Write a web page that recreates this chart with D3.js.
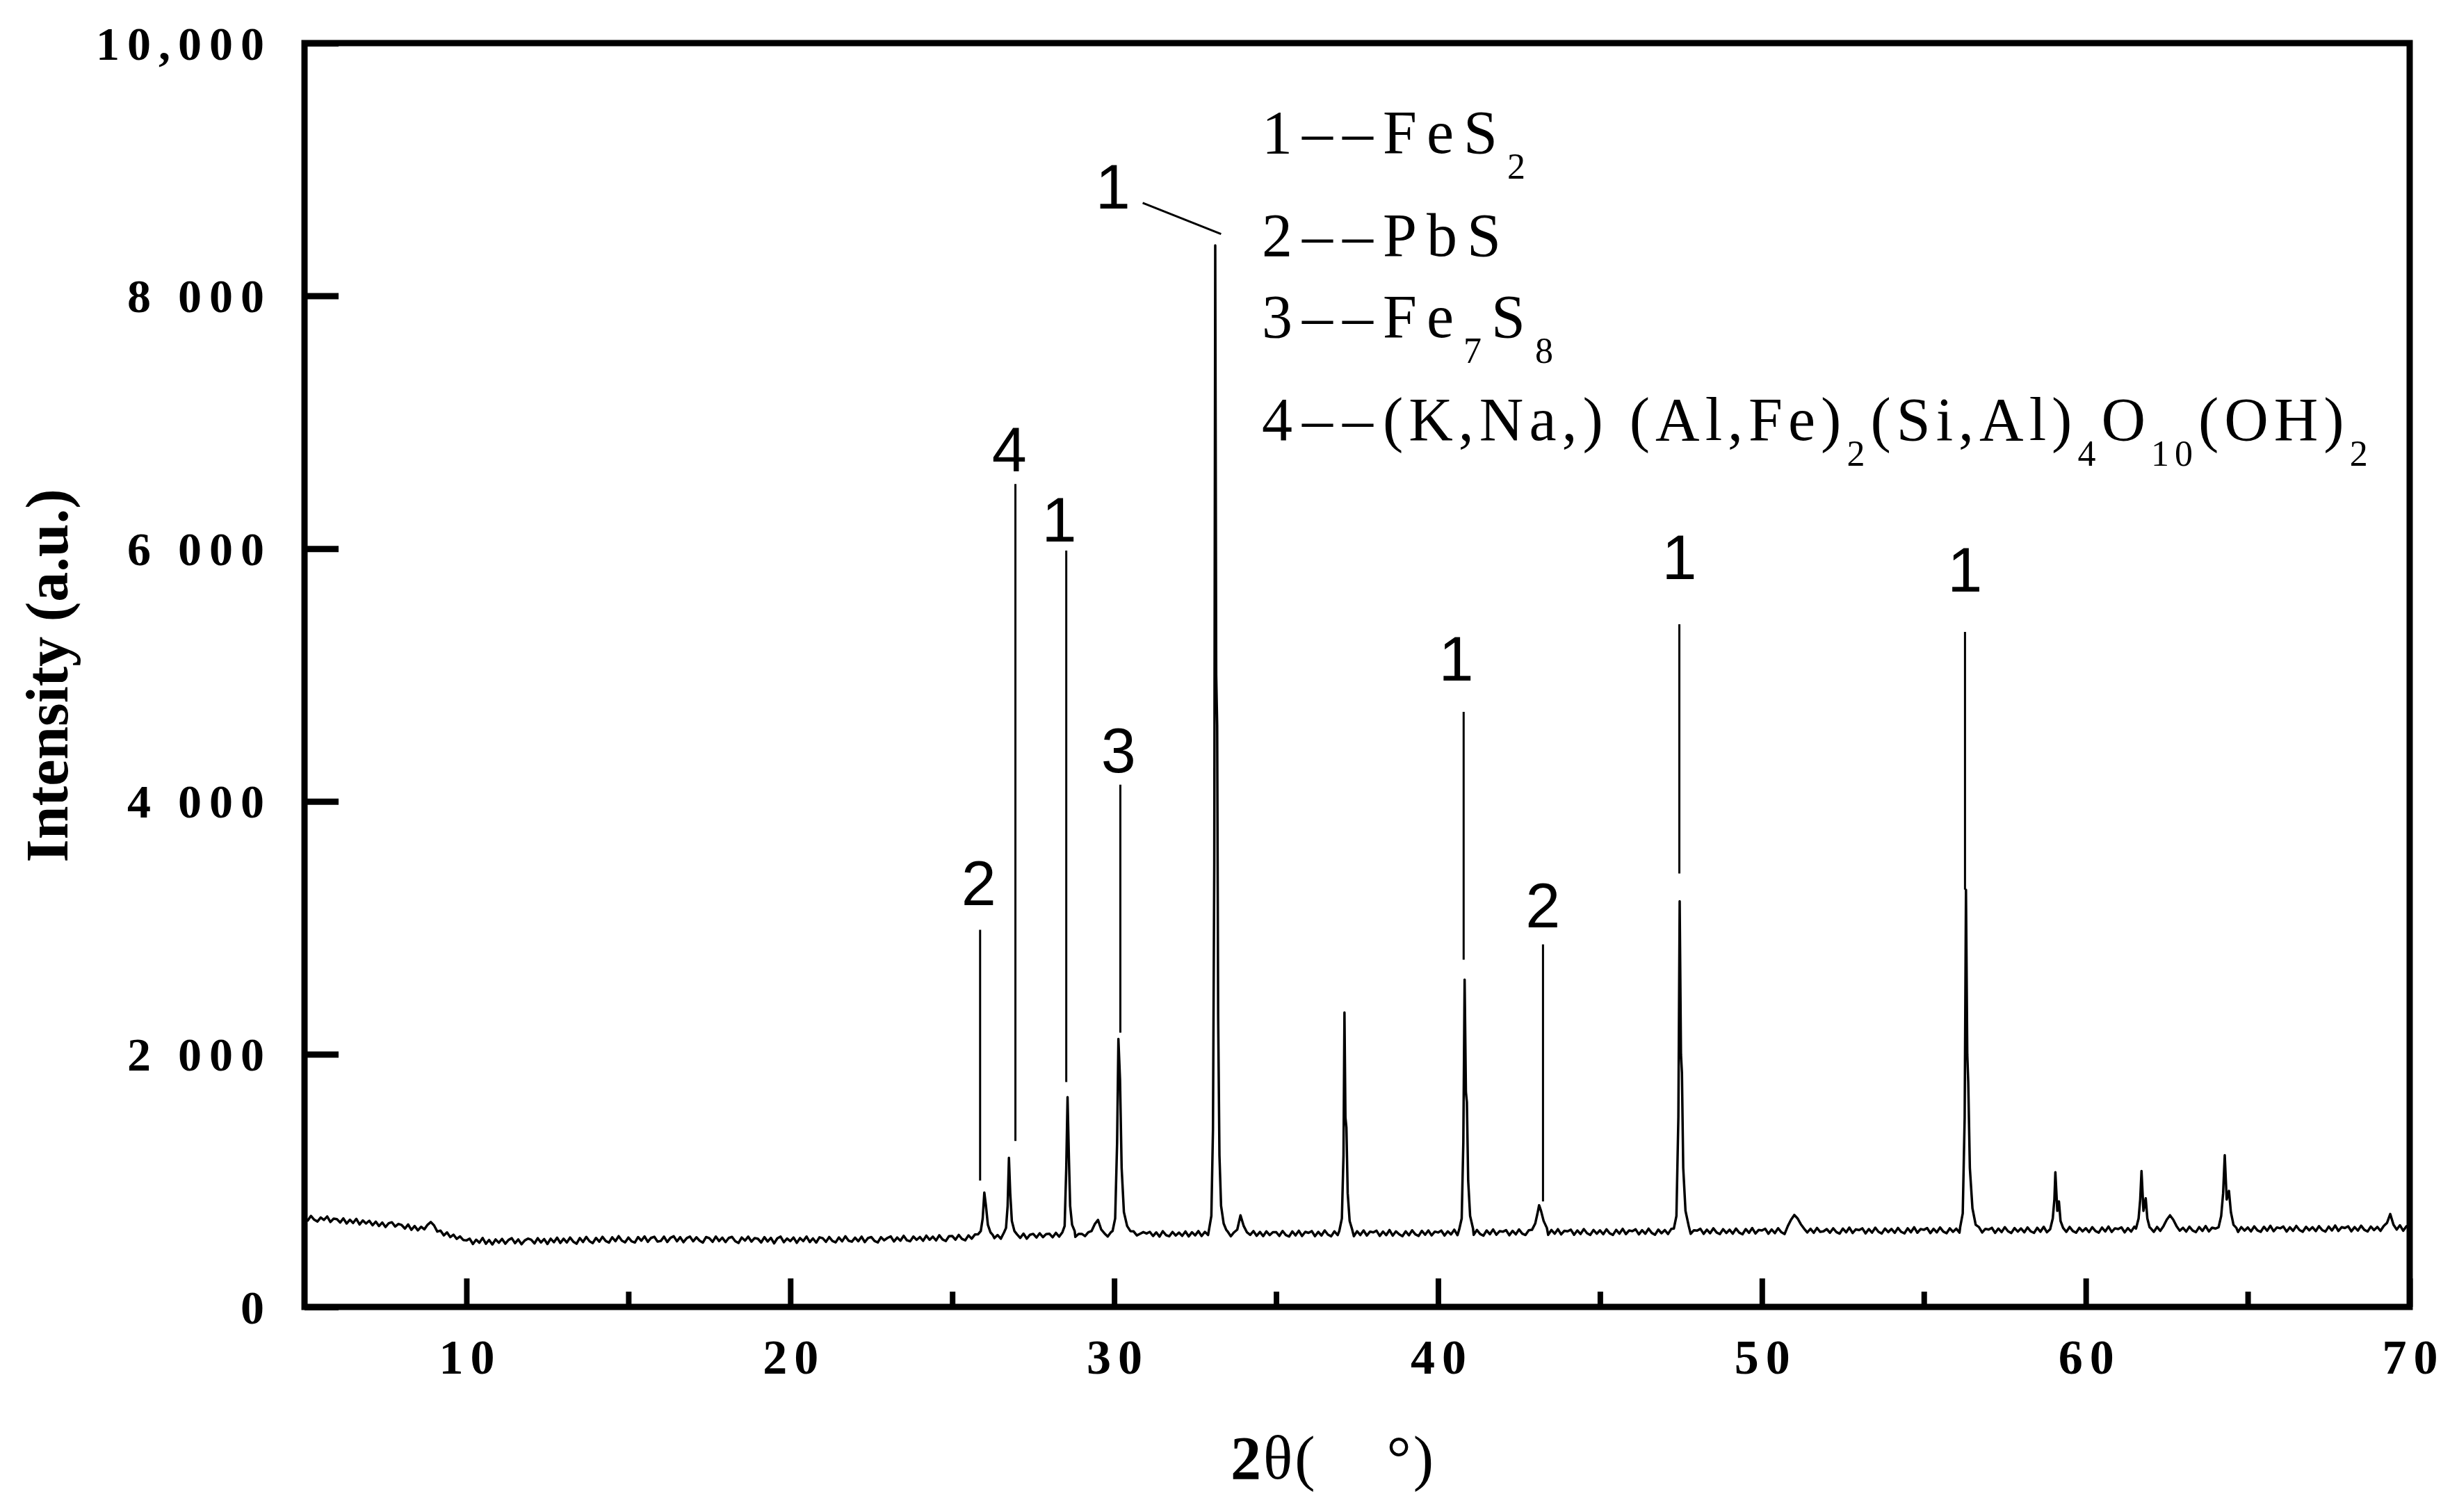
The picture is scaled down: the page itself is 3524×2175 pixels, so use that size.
<!DOCTYPE html>
<html><head><meta charset="utf-8">
<script src="https://cdn.jsdelivr.net/npm/d3@7"></script>
<style>body{margin:0;background:#fff}</style>
</head><body>
<svg id="chart" width="3524" height="2175" xmlns="http://www.w3.org/2000/svg"></svg>
<script>
// ---------- DATA ----------
// XRD scan: start angle and step (degrees 2θ), background counts
const scanStart = 5.0;
const scanStep = 0.1;
const baselineCounts = [
712,684,720,690,676,708,688,716,672,699,
694,668,701,660,690,664,697,652,684,660,
682,646,675,640,668,632,662,670,636,657,
648,620,652,610,640,606,634,614,650,672,
645,596,604,566,590,552,572,538,558,530,
526,540,498,532,508,546,500,530,494,534,
508,538,500,530,544,504,534,496,526,541,
532,502,544,510,537,498,540,512,548,506,
540,510,549,516,500,545,514,554,520,505,
546,516,555,522,509,551,520,560,524,511,
549,519,510,553,524,558,515,546,555,517,
522,556,514,547,559,519,552,512,544,557,
519,551,524,509,553,544,515,557,521,548,
513,546,554,520,506,549,525,556,517,545,
539,510,552,518,547,503,543,556,512,541,
520,549,507,545,521,557,513,542,509,551,
544,515,553,522,511,550,519,559,524,516,
548,520,556,513,545,553,522,510,552,527,
546,558,518,549,524,563,527,519,557,531,
553,523,564,531,556,526,567,534,521,560,
561,532,570,538,527,566,540,573,535,564,
566,538,574,544,569,540,578,547,570,542,
574,546,580,540,571,578,549,583,552,576,
579,551,586,556,543,582,559,589,554,578,
578,560,590,600,655,688,612,582,557,591,
586,560,593,563,588,557,598,566,579,592,
581,594,561,590,556,599,568,559,593,565,
588,562,597,558,591,566,600,561,594,569,
582,596,562,591,568,598,559,590,612,725,
640,590,570,600,563,593,560,598,568,591,
592,562,601,569,557,597,566,603,561,594,
586,600,560,594,565,605,572,559,598,568,
593,563,602,571,560,599,569,605,565,596,
590,603,562,596,568,608,564,598,575,560,
598,567,606,574,562,602,571,605,566,596,
589,604,565,598,574,611,568,600,577,607,
602,570,609,577,564,605,575,613,571,599,
595,608,567,602,574,613,580,569,606,575,
604,573,611,581,570,609,579,615,574,602,
598,611,571,605,577,616,583,570,609,579,
606,575,614,582,570,610,580,618,576,605,
599,614,574,607,579,619,585,571,612,583,
608,577,617,584,572,612,582,620,578,607,
604,618,578,611,583,622,589,576,615,585,
611,580,620,588,575,616,586,624,581,609,
605,619,579,613,584,623,591,577,640,690,
728,700,655,620,589,618,587,625,594,598,
616,587,622,592,580,620,590,628,585,614,
608,622,582,616,588,627,594,581,620,592,
617,586,625,594,582,622,591,630,587,616,
610,624,584,618,590,629,596,583,622,594,
619,588,627,596,584,624,593,632,589,618,
612,626,586,620,592,631,598,585,624,596,
621,590,629,598,586,626,595,634,591,620,
614,628,588,622,594,633,600,587,626,598,
623,592,631,600,588,628,597,636,593,622,
616,630,590,624,596,635,602,589,628,600,
624,594,633,602,640,690,725,690,640,603,
626,596,635,604,592,632,601,640,597,627,
620,634,594,628,600,639,606,593,632,604,
629,598,637,606,594,634,603,642,599,629,
622,636,596,630,602,641,608,595,634,606,
631,600,639,608,596,636,605,644,601,631,
624,638,598,632,604,643,610,597,636,608,
633,602,641,665,735,650,612,646,603,638,
644
];

// Diffraction peak profiles (2θ, counts)
const peakTheta = [
 [25.80,25.88,25.94,25.99,26.04,26.10,26.18,26.25],
 [26.60,26.66,26.71,26.75,26.79,26.84,26.92],
 [28.40,28.47,28.52,28.56,28.60,28.64,28.70,28.78],
 [29.95,30.03,30.09,30.13,30.18,30.23,30.30,30.40,30.50],
 [32.92,33.00,33.05,33.09,33.12,33.15,33.18,33.21,33.25,33.30,33.38,33.46],
 [36.95,37.03,37.08,37.11,37.14,37.17,37.21,37.27,37.35],
 [40.65,40.73,40.78,40.82,40.86,40.89,40.93,40.99,41.08],
 [42.90,43.00,43.07,43.12,43.18,43.26,43.36],
 [47.28,47.36,47.42,47.46,47.50,47.53,47.57,47.64,47.74],
 [56.12,56.20,56.26,56.30,56.34,56.37,56.42,56.50,56.60],
 [58.90,58.98,59.03,59.06,59.12,59.17,59.22,59.30],
 [61.55,61.63,61.68,61.72,61.78,61.85,61.90,61.97],
 [64.10,64.18,64.24,64.29,64.35,64.42,64.48,64.56,64.65]
];
const peakCounts = [
 [575,600,700,905,800,650,590,570],
 [590,625,800,1180,900,680,600],
 [590,640,1100,1660,1200,800,650,600],
 [600,700,1300,2120,1800,1100,750,640,600],
 [600,720,1400,3500,8400,5000,4600,2300,1200,800,660,610],
 [600,700,1200,2330,1500,1420,900,680,610],
 [610,700,1300,2590,1700,1620,1000,720,620],
 [610,660,740,805,760,680,625],
 [620,720,1500,3210,2000,1850,1100,760,640],
 [630,740,1500,3300,2000,1780,1100,780,650],
 [615,700,850,1066,760,835,680,625],
 [620,700,850,1075,760,860,700,630],
 [630,720,900,1200,850,918,750,650,625]
];

// Axes
const xMajorTicks = [10,20,30,40,50,60,70];
const xMinorTicks = [15,25,35,45,55,65];
const yTicks = [0,2000,4000,6000,8000,10000];
const yTickLabels = ["0","2 000","4 000","6 000","8 000","10,000"];
const xTitleMain = "2";
const xTitleRest = "θ(\u00a0\u00a0\u00a0\u00a0°)";
const yTitle = "Intensity (a.u.)";

// Peak annotations: phase number, line 2θ, line top/bottom counts, label 2θ, label baseline counts
const annoText   = ["2","4","1","3","1","2","1","1"];
const annoTheta  = [25.86,26.95,28.52,30.19,40.79,43.24,47.45,56.27];
const annoTop    = [2984,6511,5984,4132,4709,2868,5401,5341];
const annoBottom = [1000,1313,1780,2170,2747,835,3429,3302];
const annoLabelTheta = [25.82,26.76,28.30,30.13,40.56,43.24,47.45,56.27];
const annoLabelCounts = [3181,6610,6055,4231,4956,3005,5758,5659];
// main peak label with slanted leader
const mainText = "1";
const mainLabelTheta = 29.96, mainLabelCounts = 8692;
const mainLeaderTheta = [30.88,33.30];
const mainLeaderCounts = [8736,8489];

// Legend (text, isSubscript)
const legendLines = [
 [["1––FeS",false],["2",true]],
 [["2––PbS",false]],
 [["3––Fe",false],["7",true],["S",false],["8",true]],
 [["4––",false],["(K,Na,) (Al,Fe)",false],["2",true],["(Si,Al)",false],["4",true],["O",false],["10",true],["(OH)",false],["2",true]]
];

// ---------- DRAW ----------
const svg = d3.select("#chart");
const x = d3.scaleLinear().domain([5,70]).range([438,3466]);
const y = d3.scaleLinear().domain([0,10000]).range([1880,62]);

// merge background + peak profiles
const spans = peakTheta.map(a => [a[0], a[a.length-1]]);
let pts = [];
baselineCounts.forEach((c,i) => {
  const t = +(scanStart + i*scanStep).toFixed(2);
  if (!spans.some(s => t >= s[0] && t <= s[1])) pts.push([t,c]);
});
peakTheta.forEach((arr,k) => arr.forEach((t,j) => pts.push([t, peakCounts[k][j]])));
pts.sort((a,b) => a[0]-b[0]);

// frame
svg.append("rect").attr("x",x(5)).attr("y",y(10000))
  .attr("width",x(70)-x(5)).attr("height",y(0)-y(10000))
  .attr("fill","none").attr("stroke","#000").attr("stroke-width",9);

// x axis major
const tickFont = "'Liberation Serif','Times New Roman',serif";
const gx = svg.append("g").attr("transform",`translate(0,${y(0)})`)
  .call(d3.axisBottom(x).tickValues(xMajorTicks).tickSizeInner(-41).tickSizeOuter(0).tickPadding(46).tickFormat(d3.format("d")));
gx.select(".domain").remove();
gx.selectAll(".tick line").attr("stroke","#000").attr("stroke-width",8);
gx.selectAll(".tick text").attr("font-family",tickFont).attr("font-weight","bold")
  .attr("font-size",70).attr("letter-spacing",10).attr("dx",5).attr("fill","#000");
gx.attr("font-size",null).attr("font-family",null);

// x axis minor
const gxm = svg.append("g").attr("transform",`translate(0,${y(0)})`)
  .call(d3.axisBottom(x).tickValues(xMinorTicks).tickSizeInner(-22).tickSizeOuter(0).tickFormat(""));
gxm.select(".domain").remove();
gxm.selectAll(".tick line").attr("stroke","#000").attr("stroke-width",8);

// y axis
const gy = svg.append("g").attr("transform",`translate(${x(5)},0)`)
  .call(d3.axisLeft(y).tickValues(yTicks).tickSizeInner(-49).tickSizeOuter(0).tickPadding(47)
    .tickFormat((d,i) => yTickLabels[i]));
gy.select(".domain").remove();
gy.selectAll(".tick line").attr("stroke","#000").attr("stroke-width",9);
gy.selectAll(".tick text").attr("font-family",tickFont).attr("font-weight","bold")
  .attr("font-size",68).attr("letter-spacing",11).attr("dy","0.34em").attr("fill","#000")
  .style("white-space","pre");
gy.attr("font-size",null).attr("font-family",null);

// axis titles
const xt = svg.append("text").attr("x",1770).attr("y",2127)
  .attr("font-family",tickFont).attr("font-size",88).attr("letter-spacing",3).attr("fill","#000");
xt.append("tspan").attr("font-weight","bold").text(xTitleMain);
xt.append("tspan").text(xTitleRest);

svg.append("text").attr("transform","translate(97,972) rotate(-90)")
  .attr("text-anchor","middle").attr("font-family",tickFont).attr("font-weight","bold")
  .attr("font-size",86).attr("fill","#000").text(yTitle);

// trace
svg.append("path").datum(pts)
  .attr("d", d3.line().x(d => x(d[0])).y(d => y(d[1])))
  .attr("fill","none").attr("stroke","#000").attr("stroke-width",3.5).attr("stroke-linejoin","round");

// annotations
const labFont = "'Liberation Sans',Arial,sans-serif";
annoText.forEach((t,i) => {
  svg.append("line").attr("x1",x(annoTheta[i])).attr("x2",x(annoTheta[i]))
    .attr("y1",y(annoTop[i])).attr("y2",y(annoBottom[i]))
    .attr("stroke","#000").attr("stroke-width",3);
  svg.append("text").attr("x",x(annoLabelTheta[i])).attr("y",y(annoLabelCounts[i]))
    .attr("text-anchor","middle").attr("font-family",labFont).attr("font-size",90)
    .attr("fill","#000").text(t);
});
svg.append("line").attr("x1",x(mainLeaderTheta[0])).attr("y1",y(mainLeaderCounts[0]))
  .attr("x2",x(mainLeaderTheta[1])).attr("y2",y(mainLeaderCounts[1]))
  .attr("stroke","#000").attr("stroke-width",3);
svg.append("text").attr("x",x(mainLabelTheta)).attr("y",y(mainLabelCounts))
  .attr("text-anchor","middle").attr("font-family",labFont).attr("font-size",90)
  .attr("fill","#000").text(mainText);

// legend
const legendY = [220,368,485,633];
legendLines.forEach((segs,i) => {
  const t = svg.append("text").attr("x",1815).attr("y",legendY[i])
    .attr("font-family",tickFont).attr("font-size",88).attr("fill","#000");
  let down = false;
  segs.forEach(([s,sub],j) => {
    const ls = (i === 3 && j > 0) ? 8 : 14;
    const ts = t.append("tspan").text(s).attr("letter-spacing",ls);
    if (sub) { ts.attr("font-size",52).attr("dy", down ? 0 : 37); down = true; }
    else { if (down) ts.attr("dy",-37); down = false; }
  });
});
</script>
</body></html>
